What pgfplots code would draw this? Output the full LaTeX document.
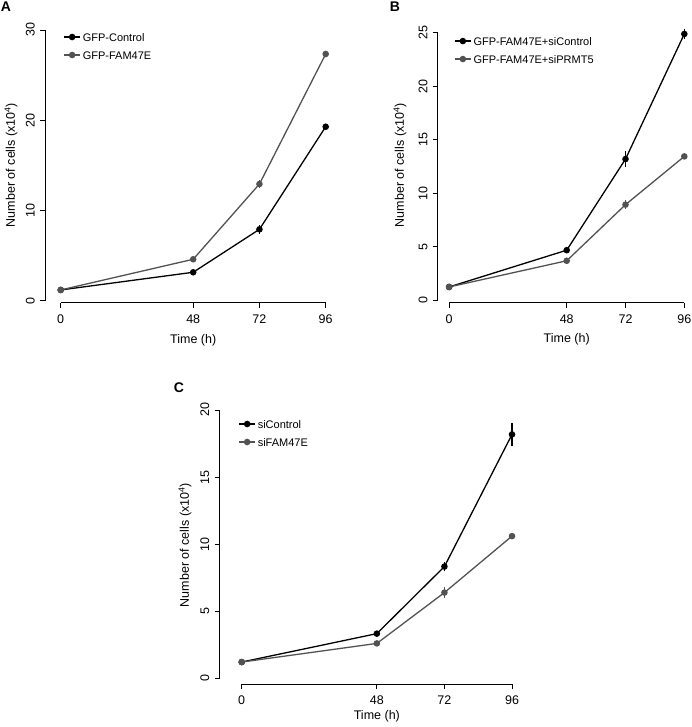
\documentclass[border=0pt]{standalone}
\usepackage{fontspec}
\setmainfont{Liberation Sans}
\usepackage{pgfplots}
\pgfplotsset{compat=1.18}
\definecolor{dgray}{RGB}{82,82,82}
\pgfplotsset{
 rstyle/.style={
  scale only axis,
  axis x line*=bottom, axis y line*=left,
  axis line style={draw=none},
  tick align=outside,
  major tick length=5pt,
  tick style={black, line width=0.9pt},
  xtick={0,48,72,96},
  clip=false,
  ticklabel style={font=\fontsize{12.5}{14}\selectfont},
  xticklabel style={anchor=north, inner sep=0pt},
  xticklabel shift=7pt, yticklabel shift=5pt,
  /pgf/number format/assume math mode=true,
  label style={font=\fontsize{12.5}{14}\selectfont},
  xlabel={Time (h)},
  ylabel={Number of cells (x10\textsuperscript{4})},
  legend style={draw=none, fill=none, font=\fontsize{11}{13}\selectfont, anchor=north west, inner sep=0pt, row sep=6pt, nodes={inner sep=2pt, text height=8pt, text depth=0pt}},
  legend cell align=left,
  legend image code/.code={\draw[mark repeat=2,mark phase=2,##1] plot coordinates {(0pt,0pt) (8pt,0pt) (16pt,0pt)};},
 },
 ylabs/.style={every y tick label/.style={rotate=90, anchor=south, inner sep=0pt, font=\fontsize{12.5}{14}\selectfont}},
 blk/.style={black, line width=1.3pt, mark=*, mark size=2.6pt, mark options={solid, fill=black},
   error bars/.cd, y dir=both, y explicit, error mark=none, error bar style={line width=1.3pt}},
 gry/.style={dgray, line width=1.3pt, mark=*, mark size=2.6pt, mark options={solid, fill=dgray},
   error bars/.cd, y dir=both, y explicit, error mark=none, error bar style={line width=1.3pt}},
}
\newcommand{\raxes}[1]{%
 \draw[line width=0.9pt] ({axis cs:0,0}|-{rel axis cs:0,0}) -- ({axis cs:96,0}|-{rel axis cs:0,0});
 \draw[line width=0.9pt] ({rel axis cs:0,0}|-{axis cs:0,0}) -- ({rel axis cs:0,0}|-{axis cs:0,#1});
}
\begin{document}
\begin{tikzpicture}
\path[use as bounding box] (0,0) rectangle (691pt,727pt);
\node[font=\bfseries\fontsize{14}{16}\selectfont] at (6pt,720pt) {A};
\node[font=\bfseries\fontsize{14}{16}\selectfont] at (395pt,720pt) {B};
\node[font=\bfseries\fontsize{14}{16}\selectfont] at (179pt,339pt) {C};
% Panel A
\begin{axis}[rstyle, ylabs, at={(45pt,424.3pt)}, anchor=south west,
  width=296.4pt, height=272.7pt,
  xmin=-5.69, xmax=101.69, ymin=-0.2217, ymax=30,
  ytick={0,10,20,30},
  ylabel style={at={(axis description cs:-0.1147,0.505)}, anchor=center},
  xlabel style={at={(axis description cs:0.5,-0.137)}, anchor=center},
  legend style={at={(rel axis cs:0.0617,0.997)}}]
\addplot+[blk] coordinates {(0,1.19) +- (0,0.1) (48,3.15) +- (0,0.15) (72,7.91) +- (0,0.5) (96,19.28) +- (0,0.2)};
\addlegendentry{GFP-Control}
\addplot+[gry] coordinates {(0,1.19) +- (0,0.1) (48,4.59) +- (0,0.15) (72,12.93) +- (0,0.45) (96,27.34) +- (0,0.2)};
\addlegendentry{GFP-FAM47E}
\raxes{30}
\end{axis}
% Panel B
\begin{axis}[rstyle, ylabs, at={(437.7pt,424.3pt)}, anchor=south west,
  width=258pt, height=270pt,
  xmin=-4.65, xmax=100.65, ymin=-0.25, ymax=25,
  ytick={0,5,10,15,20,25},
  ylabel style={at={(axis description cs:-0.146,0.51)}, anchor=center},
  xlabel style={at={(axis description cs:0.5,-0.1356)}, anchor=center},
  legend style={at={(rel axis cs:0.0632,0.992)}}]
\addplot+[blk] coordinates {(0,1.22) +- (0,0.1) (48,4.66) +- (0,0.15) (72,13.18) +- (0,0.75) (96,24.88) +- (0,0.5)};
\addlegendentry{GFP-FAM47E+siControl}
\addplot+[gry] coordinates {(0,1.22) +- (0,0.1) (48,3.67) +- (0,0.15) (72,8.92) +- (0,0.45) (96,13.43) +- (0,0.2)};
\addlegendentry{GFP-FAM47E+siPRMT5}
\raxes{25}
\end{axis}
% Panel C
\begin{axis}[rstyle, ylabs, at={(219.5pt,43pt)}, anchor=south west,
  width=314.7pt, height=274pt,
  xmin=-7.88, xmax=103.88, ymin=-0.425, ymax=20,
  ytick={0,5,10,15,20},
  ylabel style={at={(axis description cs:-0.1096,0.507)}, anchor=center},
  xlabel style={at={(axis description cs:0.5,-0.117)}, anchor=center},
  legend style={at={(rel axis cs:0.0597,0.9715)}}]
\addplot+[blk] coordinates {(0,1.21) +- (0,0.1) (48,3.33) +- (0,0.15) (72,8.33) +- (0,0.35) (96,18.18) +- (0,0.87)};
\addlegendentry{siControl}
\addplot+[gry] coordinates {(0,1.21) +- (0,0.1) (48,2.6) +- (0,0.15) (72,6.39) +- (0,0.38) (96,10.6) +- (0,0.15)};
\addlegendentry{siFAM47E}
\raxes{20}
\end{axis}
\end{tikzpicture}
\end{document}
